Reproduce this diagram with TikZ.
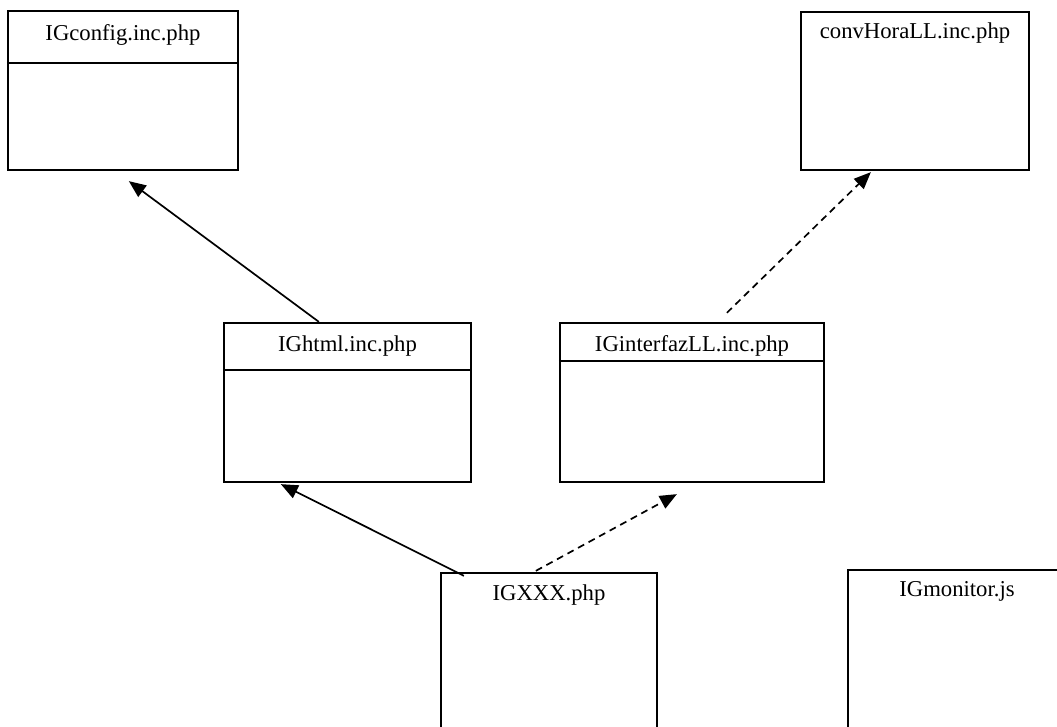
\documentclass[tikz,border=0pt]{standalone}
\usepackage{fontspec}
\setmainfont{Liberation Serif}
\usetikzlibrary{calc,arrows.meta}

\tikzset{
  filebox/.style={draw=black, line width=2.3pt, rectangle, inner sep=0pt},
  title/.style={anchor=base, inner sep=0pt, font=\fontsize{22.7}{27}\selectfont},
  divider/.style={line width=1.8pt},
  uses/.style={line width=1.7pt, -{Triangle[length=17pt,width=14pt]}},
  dep/.style={uses, dash pattern=on 7pt off 5pt},
}

\begin{document}
\begin{tikzpicture}[x=1pt, y=-1pt]
  \fill[white] (0,0) rectangle (1057,727);
  \useasboundingbox (0,0) rectangle (1057,727);
  \clip (0,0) rectangle (1057,727);

  % file boxes
  \node[filebox, minimum width=230pt, minimum height=159pt] (cfg)  at (123,90.5)   {};
  \node[filebox, minimum width=228pt, minimum height=158pt] (conv) at (915,91)     {};
  \node[filebox, minimum width=247pt, minimum height=159pt] (html) at (347.5,402.5) {};
  \node[filebox, minimum width=264pt, minimum height=159pt] (intf) at (692,402.5)  {};
  \node[filebox, minimum width=216pt, minimum height=187pt] (xxx)  at (549,666.5)  {};
  \node[filebox, minimum width=218pt, minimum height=190pt] (mon)  at (957,665)    {};

  % header separators
  \draw[divider] ($(cfg.north west)+(0,53)$)  -- ($(cfg.north east)+(0,53)$);
  \draw[divider] ($(html.north west)+(0,48)$) -- ($(html.north east)+(0,48)$);
  \draw[divider] ($(intf.north west)+(0,39)$) -- ($(intf.north east)+(0,39)$);

  % file names
  \node[title] (cfgt)  at ($(cfg.north)+(0,31)$)  {IGconfig.inc.php};
  \node[title] (convt) at ($(conv.north)+(0,28)$) {convHoraLL.inc.php};
  \node[title] (htmlt) at ($(html.north)+(0,30)$) {IGhtml.inc.php};
  \node[title] (intft) at ($(intf.north)+(0,30)$) {IGinterfazLL.inc.php};
  \node[title] (xxxt)  at ($(xxx.north)+(0,29)$)  {IGXXX.php};
  \node[title] (mont)  at ($(mon.north)+(0,28)$)  {IGmonitor.js};

  % connector end points
  \coordinate (a1s) at ($(html.north west)+(96,0)$);
  \coordinate (a1e) at ($(cfg.south west)+(122,10)$);
  \coordinate (a2s) at ($(intf.north west)+(168,-9)$);
  \coordinate (a2e) at ($(conv.south west)+(71,1)$);
  \coordinate (a3s) at ($(xxx.north west)+(24,4)$);
  \coordinate (a3e) at ($(html.south west)+(58,1)$);
  \coordinate (a4s) at ($(xxx.north west)+(96,-1)$);
  \coordinate (a4e) at ($(intf.south west)+(118,11)$);

  % dependencies
  \draw[uses] (a1s) -- (a1e);
  \draw[dep]  (a2s) -- (a2e);
  \draw[uses] (a3s) -- (a3e);
  \draw[dep]  (a4s) -- (a4e);
\end{tikzpicture}
\end{document}
